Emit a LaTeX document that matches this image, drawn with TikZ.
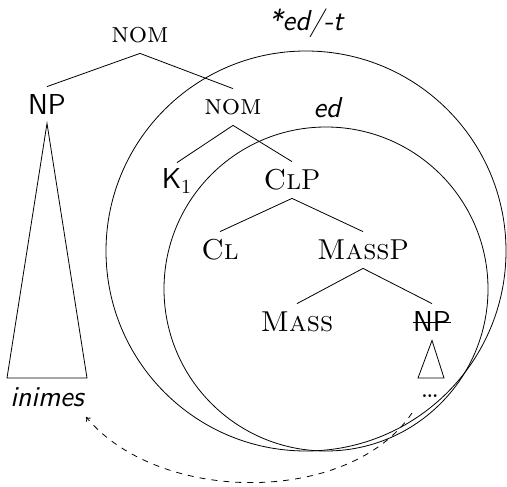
\documentclass[tikz,border=0pt]{standalone}
\usepackage{amsmath,amssymb}
\usepackage{tikz}
\usetikzlibrary{arrows.meta,calc,positioning}

\begin{document}
\begin{tikzpicture}[x=0.5pt,y=-0.5pt,>={To[length=2pt,width=3pt]},font=\Large,
  lab/.style={inner sep=0pt,minimum height=18pt},
  sfit/.style={font=\Large\sffamily\itshape}]
\useasboundingbox (0,0) rectangle (507,486);
% the two domains
\draw (306,251) circle [radius=100pt];
\draw (326,289) circle [radius=81pt];
\node[sfit] (outlab) at (306,23) {*ed/-t};
\node[sfit] (inlab) at (327,108) {ed};
% the tree
\node[lab] (nomA) at (140,35) {\textsc{nom}};
\node[lab] (npA) at (47,105) {\textsf{NP}};
\node[lab] (nomB) at (233,107) {\textsc{nom}};
\node[lab] (kA) at (177,181) {\textsf{K}$_1$};
\node[lab] (clp) at (292,180) {\textsc{Cl}P};
\node[lab] (cl) at (220,250) {\textsc{Cl}};
\node[lab] (massp) at (363,250) {\textsc{Mass}P};
\node[lab] (mass) at (297,322) {\textsc{Mass}};
\node[lab] (npB) at (432,322) {\textsf{NP}};
\node[lab] (dots) at (430,396) {\dots};
\node[lab,sfit] (inimes) at (47,397) {inimes};
\draw (npB.west) -- (npB.east);
\foreach \p/\c in {nomA/npA,nomA/nomB,nomB/kA,nomB/clp,clp/cl,clp/massp,massp/mass,massp/npB}
  \draw (\p.south) -- (\c.north);
% roofs
\draw (npA.south) -- (7,378) -- (87,378) -- cycle;
\draw (npB.south) -- (418,378) -- (444,378) -- cycle;
% movement
\coordinate (mvs) at (412,413);
\coordinate (mvt) at (86,417);
\draw[->,dashed] (mvs) .. controls (350,505) and (160,505) .. (mvt);
\end{tikzpicture}
\end{document}
